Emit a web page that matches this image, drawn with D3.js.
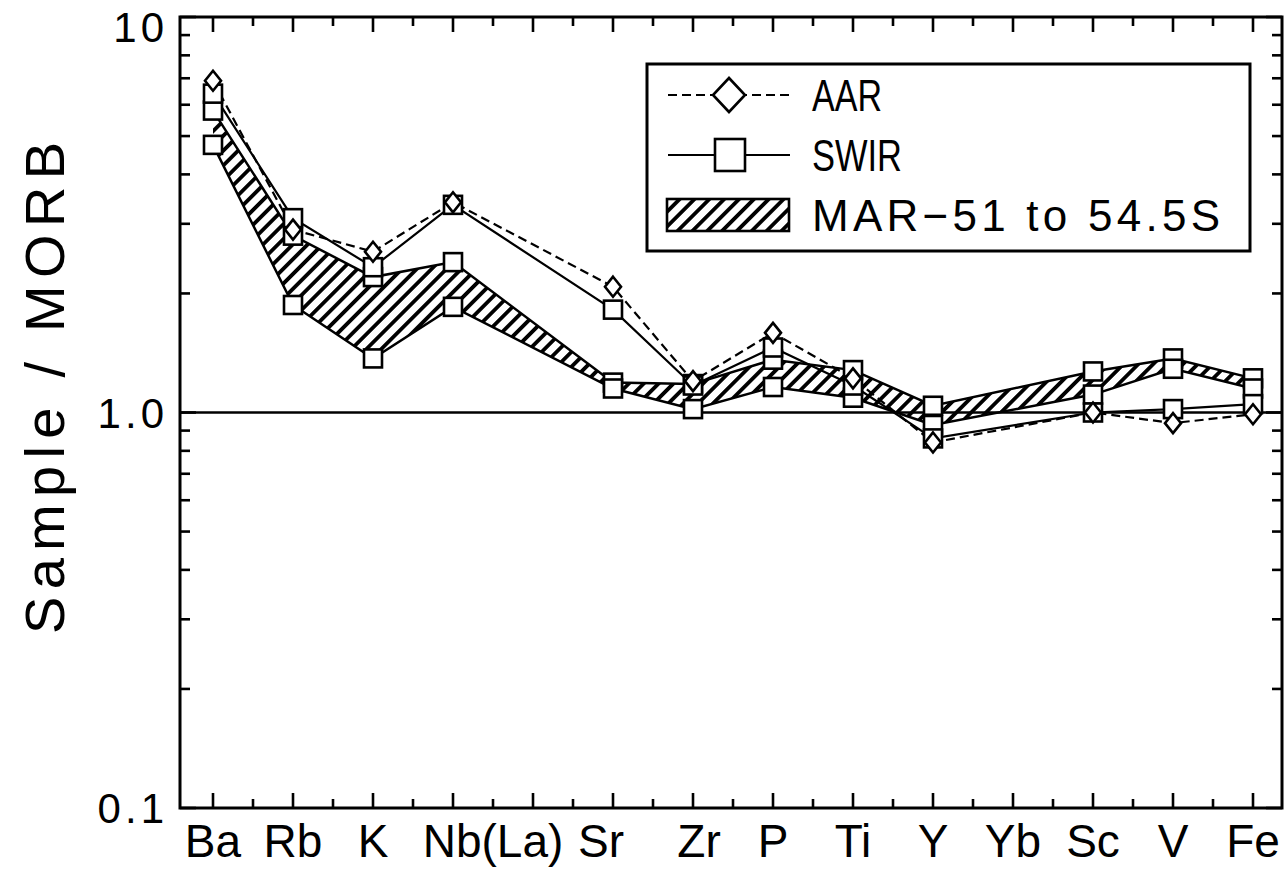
<!DOCTYPE html>
<html>
<head>
<meta charset="utf-8">
<script src="https://cdn.jsdelivr.net/npm/d3@7"></script>
<style>
  html, body { margin: 0; padding: 0; background: #fff; }
  svg { display: block; }
  text { font-family: "Liberation Sans", "DejaVu Sans", sans-serif; fill: #000; }
</style>
</head>
<body>
<svg id="chart" width="1284" height="870"></svg>
<script>
// Element slots along the x axis (La and Yb hold a slot but carry no values)
const slots = ["Ba", "Rb", "K", "Nb", "La", "Sr", "Zr", "P", "Ti", "Y", "Yb", "Sc", "V", "Fe"];
const elements = ["Ba", "Rb", "K", "Nb", "Sr", "Zr", "P", "Ti", "Y", "Sc", "V", "Fe"];

// Axis labels
const xLabels = ["Ba", "Rb", "K", "Nb(La)", "Sr", "Zr", "P", "Ti", "Y", "Yb", "Sc", "V", "Fe"];
const xLabelSlots = [["Ba"], ["Rb"], ["K"], ["Nb", "La"], ["Sr"], ["Zr"], ["P"], ["Ti"], ["Y"], ["Yb"], ["Sc"], ["V"], ["Fe"]];
const yTickLabels = ["0.1", "1.0", "10"];
const yTickValues = [0.1, 1, 10];

// Sample / MORB ratios
const aar      = [6.9, 2.9, 2.55, 3.4, 2.08, 1.2, 1.59, 1.22, 0.84, 1.0, 0.94, 0.99];
const swir     = [6.4, 3.1, 2.33, 3.35, 1.82, 1.17, 1.46, 1.17, 0.86, 1.0, 1.02, 1.05];
const marUpper = [5.8, 2.8, 2.2, 2.4, 1.19, 1.18, 1.36, 1.28, 1.04, 1.27, 1.37, 1.22];
const marLower = [4.75, 1.87, 1.37, 1.85, 1.15, 1.02, 1.16, 1.09, 0.93, 1.11, 1.29, 1.15];

const legendItems = ["AAR", "SWIR", "MAR\u221251  to  54.5S"];

const svg = d3.select("#chart");
const frame = { left: 180, right: 1282, top: 17, bottom: 808 };

const x = d3.scalePoint().domain(slots).range([213, 1253]);
const xi = d3.scaleLinear().domain([0, slots.length - 1]).range([213, 1253]);
const y = d3.scaleLog().domain([0.1, 10]).range([frame.bottom, frame.top]);

// Diagonal hatch
const defs = svg.append("defs");
defs.append("pattern")
  .attr("id", "hatch")
  .attr("patternUnits", "userSpaceOnUse")
  .attr("width", 10.5).attr("height", 10.5)
  .attr("patternTransform", "rotate(45)")
  .append("rect")
  .attr("x", 0).attr("y", 0).attr("width", 3.8).attr("height", 10.5)
  .attr("fill", "#000");

// Plot frame
svg.append("rect")
  .attr("x", frame.left).attr("y", frame.top)
  .attr("width", frame.right - frame.left).attr("height", frame.bottom - frame.top)
  .attr("fill", "none").attr("stroke", "#000").attr("stroke-width", 3);

// Y ticks, pointing inward on both sides
const isMajor = v => yTickValues.some(m => Math.abs(m - v) < 1e-9);
const yt = y.ticks();
const ticksG = svg.append("g");
const tickStyle = sel => sel.style("stroke", "#000").style("stroke-width", "2.6px");
ticksG.selectAll("line.yl").data(yt).join("line").attr("class", "yl")
  .attr("x1", frame.left).attr("x2", d => frame.left + (isMajor(d) ? 16 : 10))
  .attr("y1", d => y(d)).attr("y2", d => y(d))
  .call(tickStyle);
ticksG.selectAll("line.yr").data(yt).join("line").attr("class", "yr")
  .attr("x1", frame.right).attr("x2", d => frame.right - (isMajor(d) ? 16 : 10))
  .attr("y1", d => y(d)).attr("y2", d => y(d))
  .call(tickStyle);

// X ticks at every slot (long) and half slot (short), top and bottom
const xTickIdx = d3.range(0, slots.length - 1 + 1e-9, 0.5);
const tickLen = d => (Number.isInteger(d) ? 15 : 9);
ticksG.selectAll("line.xb").data(xTickIdx).join("line").attr("class", "xb")
  .attr("x1", d => xi(d)).attr("x2", d => xi(d))
  .attr("y1", frame.bottom).attr("y2", d => frame.bottom - tickLen(d))
  .call(tickStyle);
ticksG.selectAll("line.xt").data(xTickIdx).join("line").attr("class", "xt")
  .attr("x1", d => xi(d)).attr("x2", d => xi(d))
  .attr("y1", frame.top).attr("y2", d => frame.top + tickLen(d))
  .call(tickStyle);

// Reference line at 1.0
svg.append("line")
  .attr("x1", frame.left).attr("x2", frame.right)
  .attr("y1", y(1)).attr("y2", y(1))
  .attr("stroke", "#000").attr("stroke-width", 2.4);

// Y tick labels
svg.append("g").selectAll("text")
  .data(yTickValues)
  .join("text")
  .attr("x", 168)
  .attr("y", d => Math.max(y(d), 27))
  .attr("dy", "0.36em")
  .attr("text-anchor", "end")
  .attr("font-size", 42)
  .attr("letter-spacing", 4)
  .text((d, i) => yTickLabels[i]);

// Y title
svg.append("text")
  .attr("transform", "translate(64,388) rotate(-90)")
  .attr("text-anchor", "middle")
  .attr("font-size", 56)
  .attr("textLength", 492)
  .attr("lengthAdjust", "spacing")
  .text("Sample  /  MORB");

// X labels
const labelOffset = { "Sr": -12, "Zr": 6 };
svg.append("g").selectAll("text")
  .data(xLabels)
  .join("text")
  .attr("x", (d, i) => d3.mean(xLabelSlots[i], s => x(s)) + (labelOffset[d] || 0))
  .attr("y", 857)
  .attr("text-anchor", "middle")
  .attr("font-size", 46)
  .text(d => d);

// Data helpers
const pts = arr => elements.map((e, i) => [x(e), y(arr[i])]);
const line = d3.line();

// MAR field (hatched band between upper and lower bounds)
const area = d3.area()
  .x(d => x(d.e))
  .y0(d => y(d.lo))
  .y1(d => y(d.hi));
const marData = elements.map((e, i) => ({ e, hi: marUpper[i], lo: marLower[i] }));
svg.append("path")
  .datum(marData)
  .attr("d", area)
  .attr("fill", "url(#hatch)");
[marUpper, marLower].forEach(arr => {
  svg.append("path")
    .attr("d", line(pts(arr)))
    .attr("fill", "none").attr("stroke", "#000").attr("stroke-width", 2.5);
});

// SWIR (solid) and AAR (dashed) lines
svg.append("path")
  .attr("d", line(pts(swir)))
  .attr("fill", "none").attr("stroke", "#000").attr("stroke-width", 2.2);
svg.append("path")
  .attr("d", line(pts(aar)))
  .attr("fill", "none").attr("stroke", "#000").attr("stroke-width", 2.2)
  .attr("stroke-dasharray", "9,5");

// Markers
const sq = 18;
function squares(arr) {
  svg.append("g").selectAll("rect")
    .data(pts(arr))
    .join("rect")
    .attr("x", d => d[0] - sq / 2).attr("y", d => d[1] - sq / 2)
    .attr("width", sq).attr("height", sq)
    .attr("fill", "#fff").attr("stroke", "#000").attr("stroke-width", 2.6);
}
function diamonds(arr) {
  svg.append("g").selectAll("path")
    .data(pts(arr))
    .join("path")
    .attr("d", d => `M${d[0]},${d[1] - 10}L${d[0] + 8},${d[1]}L${d[0]},${d[1] + 10}L${d[0] - 8},${d[1]}Z`)
    .attr("fill", "#fff").attr("stroke", "#000").attr("stroke-width", 2.6);
}
squares(marUpper);
squares(marLower);
squares(swir);
diamonds(aar);

// Legend
const lg = svg.append("g");
lg.append("rect")
  .attr("x", 647).attr("y", 64).attr("width", 603).attr("height", 187)
  .attr("fill", "#fff").attr("stroke", "#000").attr("stroke-width", 3);
const rows = [95, 155, 215];
// AAR sample
lg.append("line").attr("x1", 668).attr("x2", 790).attr("y1", rows[0]).attr("y2", rows[0])
  .attr("stroke", "#000").attr("stroke-width", 2.2).attr("stroke-dasharray", "9,5");
lg.append("path")
  .attr("d", `M729,${rows[0] - 17}L745,${rows[0]}L729,${rows[0] + 17}L713,${rows[0]}Z`)
  .attr("fill", "#fff").attr("stroke", "#000").attr("stroke-width", 2.6);
// SWIR sample
lg.append("line").attr("x1", 668).attr("x2", 790).attr("y1", rows[1]).attr("y2", rows[1])
  .attr("stroke", "#000").attr("stroke-width", 2.2);
lg.append("rect").attr("x", 715).attr("y", rows[1] - 16).attr("width", 30).attr("height", 32)
  .attr("fill", "#fff").attr("stroke", "#000").attr("stroke-width", 2.6);
// MAR sample
lg.append("rect").attr("x", 667).attr("y", rows[2] - 16).attr("width", 122).attr("height", 32)
  .attr("fill", "url(#hatch)").attr("stroke", "#000").attr("stroke-width", 2.6);
const legendWidths = [70, 90, 408];
lg.selectAll("text.lab")
  .data(legendItems)
  .join("text")
  .attr("class", "lab")
  .attr("x", 812)
  .attr("y", (d, i) => rows[i])
  .attr("dy", "0.36em")
  .attr("font-size", 44)
  .attr("textLength", (d, i) => legendWidths[i])
  .attr("lengthAdjust", (d, i) => (i === 2 ? "spacing" : "spacingAndGlyphs"))
  .text(d => d);
</script>
</body>
</html>
